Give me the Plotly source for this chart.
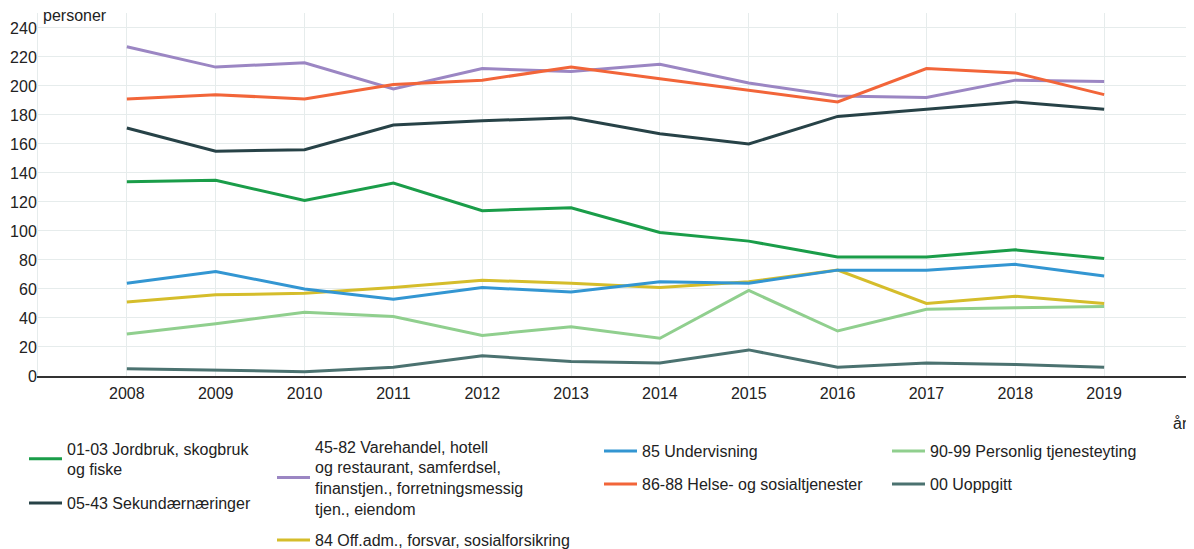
import plotly.graph_objects as go

years = list(range(2008, 2020))

s_jordbruk = [134, 135, 121, 133, 114, 116, 99, 93, 82, 82, 87, 81]
s_sekundaer = [171, 155, 156, 173, 176, 178, 167, 160, 179, 184, 189, 184]
s_varehandel = [227, 213, 216, 198, 212, 210, 215, 202, 193, 192, 204, 203]
s_offadm = [51, 56, 57, 61, 66, 64, 61, 65, 73, 50, 55, 50]
s_undervisning = [64, 72, 60, 53, 61, 58, 65, 64, 73, 73, 77, 69]
s_helse = [191, 194, 191, 201, 204, 213, 205, 197, 189, 212, 209, 194]
s_personlig = [29, 36, 44, 41, 28, 34, 26, 59, 31, 46, 47, 48]
s_uoppgitt = [5, 4, 3, 6, 14, 10, 9, 18, 6, 9, 8, 6]

names = [
    "01-03 Jordbruk, skogbruk<br>og fiske",
    "05-43 Sekundærnæringer",
    "45-82 Varehandel, hotell<br>og restaurant, samferdsel,<br>finanstjen., forretningsmessig<br>tjen., eiendom",
    "84 Off.adm., forsvar, sosialforsikring",
    "85 Undervisning",
    "86-88 Helse- og sosialtjenester",
    "90-99 Personlig tjenesteyting",
    "00 Uoppgitt",
]
series = [s_jordbruk, s_sekundaer, s_varehandel, s_offadm, s_undervisning, s_helse, s_personlig, s_uoppgitt]
colors = ["#1a9d49", "#274247", "#9b86c3", "#d5bd2b", "#3396d2", "#f26539", "#90cf8e", "#4b7270"]

# legend symbol start (px) and center y (px) in the reference screenshot
legend_pos = [(30, 459), (30, 503), (278, 478), (278, 540), (605, 451), (605, 484), (893, 451), (893, 484)]

OFF = 8  # page body margin of the browser
W, H = 1194 - OFF, 549 - OFF
# plot area in screenshot pixels: x 38..1193, y 13..376
ML, MR, MT, MB = 38 - OFF, 1, 13 - OFF, 549 - 376
PW, PH = W - ML - MR, H - MT - MB

def px2paper(px, py):
    # px, py in screenshot pixels
    return (px - OFF - ML) / PW, (H - MB - (py - OFF)) / PH

FONT = "Arial, Liberation Sans, sans-serif"
TXT = "#222222"
FS = 16

fig = go.Figure()
layout_legends = {}
for i, (name, vals, col) in enumerate(zip(names, series, colors)):
    lg = "legend" if i == 0 else f"legend{i+1}"
    fig.add_trace(go.Scatter(
        x=years, y=vals, mode="lines", name=name,
        line=dict(color=col, width=3), legend=lg,
    ))
    lx, ly = px2paper(legend_pos[i][0] - 6, legend_pos[i][1])
    layout_legends[lg] = dict(
        x=lx, y=ly, xanchor="left", yanchor="middle",
        font=dict(family=FONT, size=FS, color=TXT),
        bgcolor="rgba(0,0,0,0)", borderwidth=0, itemwidth=33,
        itemclick=False, itemdoubleclick=False,
    )

fig.update_layout(
    width=W, height=H,
    margin=dict(l=ML, r=MR, t=MT, b=MB, autoexpand=False),
    paper_bgcolor="white", plot_bgcolor="white",
    font=dict(family=FONT, size=FS, color=TXT),
    showlegend=True,
    **layout_legends,
)

fig.update_xaxes(
    range=[2007, 2020], tickvals=years, ticktext=[str(y) for y in years],
    showgrid=True, gridcolor="#e6ecec", gridwidth=1,
    showline=True, linecolor="#333333", linewidth=1.5,
    zeroline=False, ticks="", ticklabelstandoff=2, automargin=False,
    tickfont=dict(family=FONT, size=FS, color=TXT),
)
fig.update_yaxes(
    range=[0, 250.3], dtick=20, tick0=0,
    showgrid=True, gridcolor="#e6ecec", gridwidth=1,
    showline=True, linecolor="#e6ecec", linewidth=1,
    zeroline=False, ticks="", ticklabelstandoff=-3, automargin=False,
    tickfont=dict(family=FONT, size=FS, color=TXT),
)

px, py = px2paper(41, 16)
fig.add_annotation(text="personer", xref="paper", yref="paper", x=px, y=py,
                   xanchor="left", yanchor="middle", showarrow=False,
                   font=dict(family=FONT, size=FS, color=TXT))
px, py = px2paper(1190, 423)
fig.add_annotation(text="år", xref="paper", yref="paper", x=px, y=py,
                   xanchor="right", yanchor="middle", showarrow=False,
                   font=dict(family=FONT, size=FS, color=TXT))

fig.write_html("out.html")
